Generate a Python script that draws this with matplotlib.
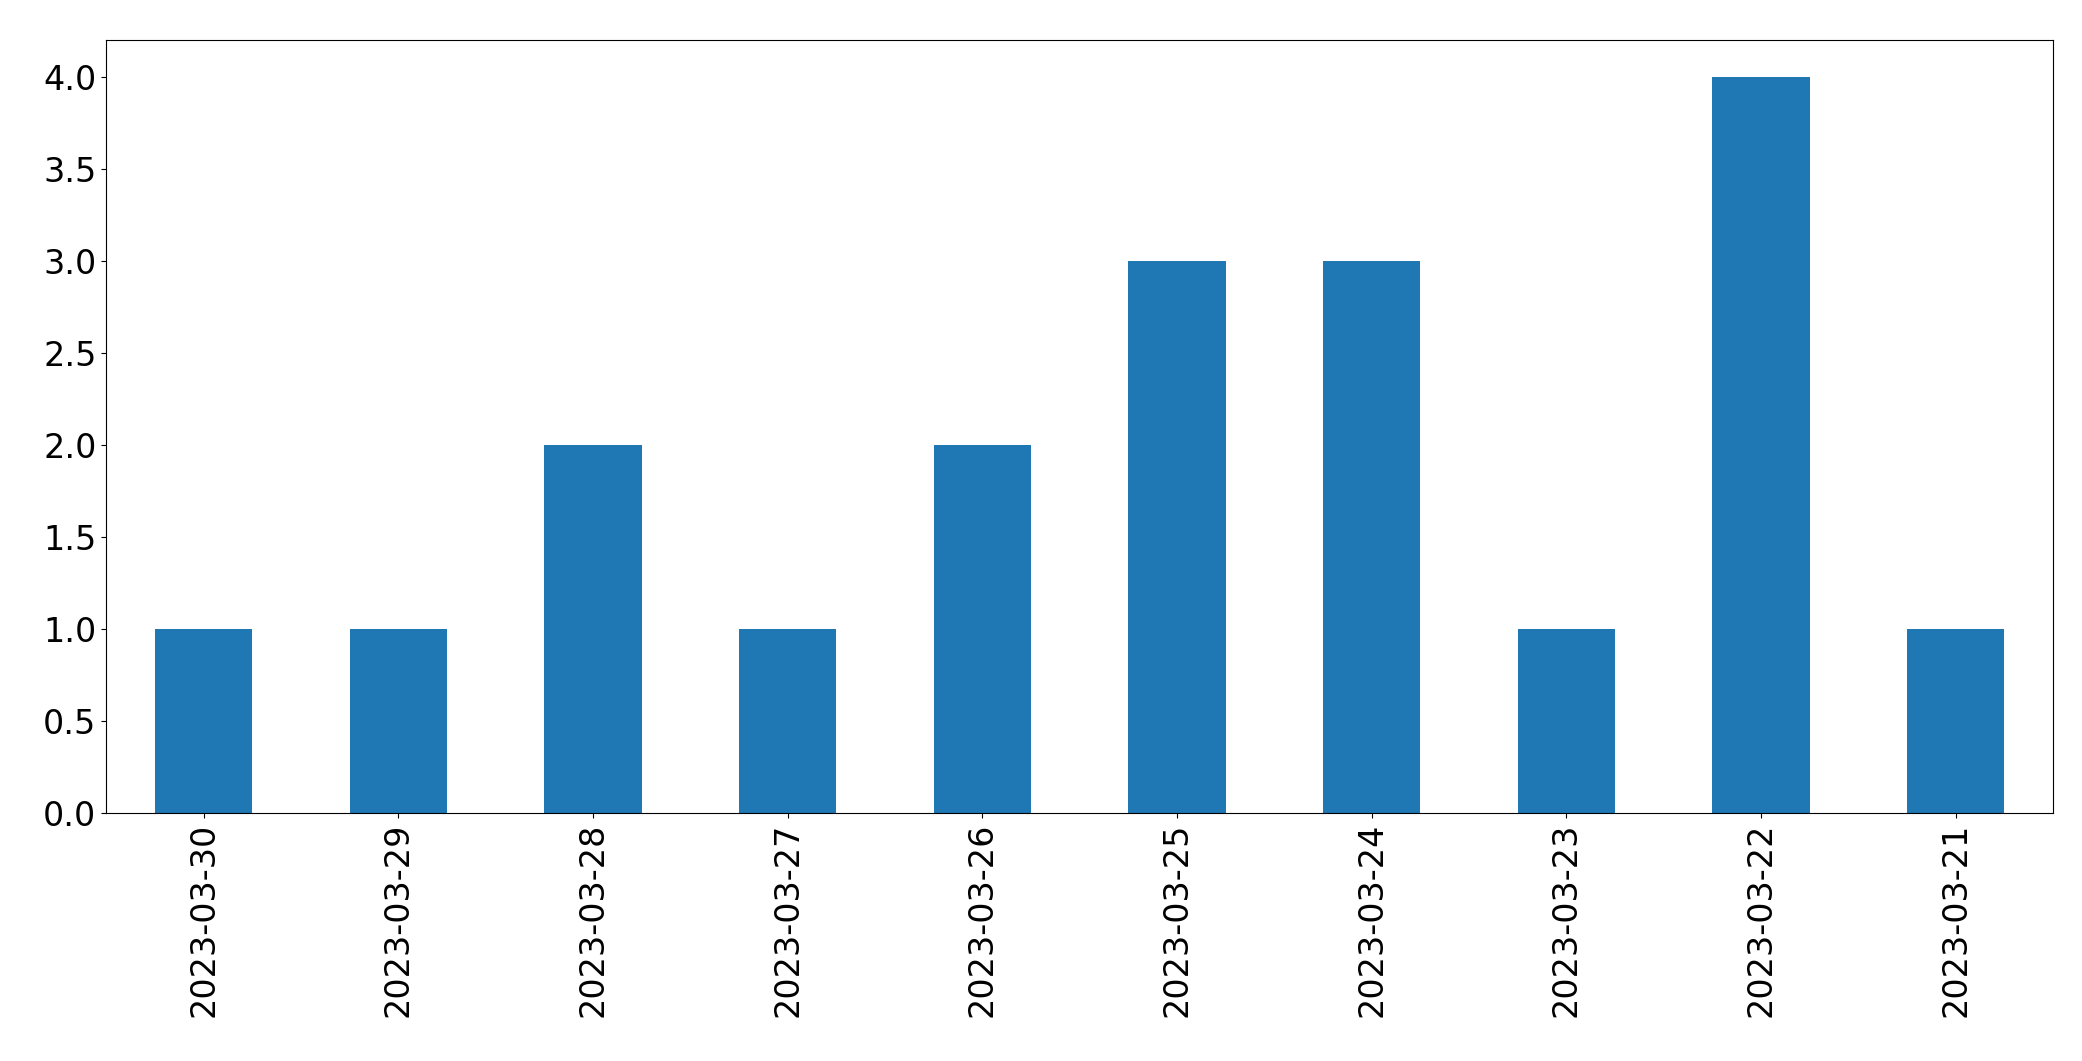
import matplotlib
matplotlib.use("Agg")
import matplotlib.pyplot as plt
import numpy as np

dates = ["2023-03-30", "2023-03-29", "2023-03-28", "2023-03-27", "2023-03-26",
         "2023-03-25", "2023-03-24", "2023-03-23", "2023-03-22", "2023-03-21"]
counts = [1, 1, 2, 1, 2, 3, 3, 1, 4, 1]

fig = plt.figure(figsize=(20.82, 10.61), dpi=100)
ax = fig.add_axes([0.051, 0.234, 0.935, 0.728])
x = np.arange(len(dates))
ax.bar(x, counts, width=0.5, color="#1f77b4")
ax.set_xlim(-0.5, len(dates) - 0.5)
ax.set_ylim(0, 4.2)
ax.set_yticks(np.arange(0, 4.01, 0.5))
ax.set_xticks(x)
ax.set_xticklabels(dates, rotation=90)
ax.tick_params(labelsize=24)
fig.savefig("out.png", dpi=100)
